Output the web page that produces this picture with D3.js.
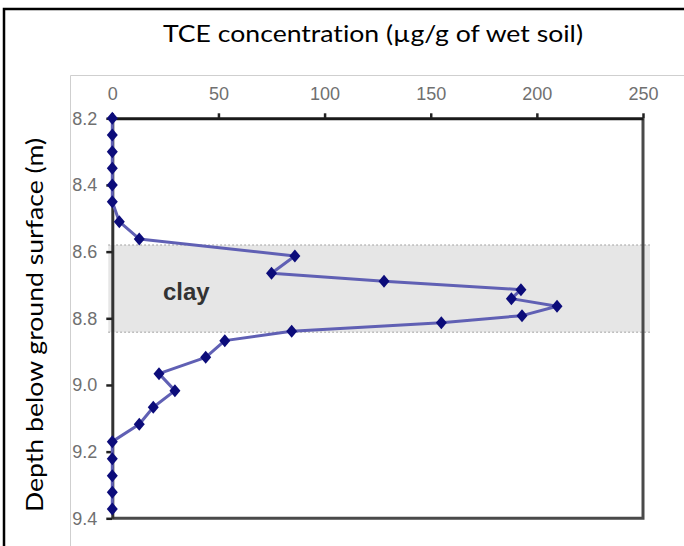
<!DOCTYPE html>
<html>
<head>
<meta charset="utf-8">
<script src="https://cdn.jsdelivr.net/npm/d3@7"></script>
<style>
  body { margin: 0; background: #fff; }
  svg { display: block; }
  text { font-variant-ligatures: none; }
</style>
</head>
<body>
<svg id="chart" width="684" height="546"></svg>
<script>
// TCE profile
var depths = [8.2, 8.25, 8.3, 8.35, 8.4, 8.45, 8.51, 8.562, 8.613, 8.665, 8.689, 8.714, 8.741, 8.764,
  8.792, 8.813, 8.839, 8.867, 8.917, 8.966, 9.017, 9.067, 9.118, 9.17, 9.221, 9.272, 9.322, 9.372];
var concentrations = [0, 0, 0, 0, 0, 0, 3.3, 12.7, 86, 75, 128, 192.5, 188, 209.5,
  193, 155, 84.5, 53, 44, 22, 29.5, 19.3, 12.7, 0, 0, 0, 0, 0];
var xTicks = [0, 50, 100, 150, 200, 250];
var yTicks = [8.2, 8.4, 8.6, 8.8, 9.0, 9.2, 9.4];
var clayLayer = [8.58, 8.842];

var svg = d3.select("#chart");

// outer frame and picture border
svg.append("path")
  .attr("d", "M4,546 V9 H684")
  .attr("fill", "none")
  .attr("stroke", "#000")
  .attr("stroke-width", 2.5);
svg.append("path")
  .attr("d", "M70.5,546 V75.5 H684")
  .attr("fill", "none")
  .attr("stroke", "#cfcfcf")
  .attr("stroke-width", 1);

var x = d3.scaleLinear().domain([0, 250]).range([112.3, 643]);
var y = d3.scaleLinear().domain([8.2, 9.4]).range([118.3, 518.3]);

// clay band
svg.append("rect")
  .attr("x", x(0) - 4)
  .attr("y", y(clayLayer[0]))
  .attr("width", x(250) + 11 - x(0))
  .attr("height", y(clayLayer[1]) - y(clayLayer[0]))
  .attr("fill", "#e6e6e6");
clayLayer.forEach(function(d) {
  svg.append("line")
    .attr("x1", x(0) - 4).attr("x2", x(250) + 7)
    .attr("y1", y(d)).attr("y2", y(d))
    .attr("stroke", "#b0b0b0")
    .attr("stroke-width", 1.5)
    .attr("stroke-dasharray", "1.5,2.5");
});

svg.append("text")
  .attr("x", 163)
  .attr("y", 300)
  .attr("font-family", "Liberation Sans, Arial, sans-serif")
  .attr("font-weight", "bold")
  .attr("font-size", 24)
  .attr("fill", "#333")
  .text("clay");

// right and bottom frame of the plot
svg.append("path")
  .attr("d", "M" + x(0) + "," + y(9.4) + " H" + x(250) + " V" + y(8.2))
  .attr("fill", "none")
  .attr("stroke", "#4a4a4a")
  .attr("stroke-width", 3);

// axes
var xAxis = svg.append("g")
  .attr("transform", "translate(0," + y(8.2) + ")")
  .call(d3.axisTop(x).tickValues(xTicks).tickSize(5).tickPadding(13).tickSizeOuter(0));
var yAxis = svg.append("g")
  .attr("transform", "translate(" + x(0) + ",0)")
  .call(d3.axisLeft(y).tickValues(yTicks).tickFormat(d3.format(".1f")).tickSize(6).tickPadding(9).tickSizeOuter(0));

xAxis.select(".domain").attr("stroke", "#1a1a1a").attr("stroke-width", 3);
yAxis.select(".domain").attr("stroke", "#333").attr("stroke-width", 3);
[xAxis, yAxis].forEach(function(g) {
  g.selectAll(".tick line").attr("stroke", "#222").attr("stroke-width", 2.5);
  g.selectAll(".tick text")
    .attr("font-family", "Liberation Sans, Arial, sans-serif")
    .attr("font-size", 18)
    .attr("fill", "#707070");
});

// profile line and markers
var points = depths.map(function(d, i) { return [concentrations[i], d]; });
var line = d3.line()
  .x(function(d) { return x(d[0]); })
  .y(function(d) { return y(d[1]); });

svg.append("path")
  .datum(points)
  .attr("d", line)
  .attr("fill", "none")
  .attr("stroke", "#6060b4")
  .attr("stroke-width", 3)
  .attr("stroke-linejoin", "round");

svg.selectAll(".marker")
  .data(points)
  .enter()
  .append("path")
  .attr("class", "marker")
  .attr("d", "M0,-6.5 L5.5,0 L0,6.5 L-5.5,0 Z")
  .attr("fill", "#0c0c7a")
  .attr("transform", function(d) { return "translate(" + x(d[0]) + "," + y(d[1]) + ")"; });

// titles
svg.append("text")
  .attr("x", 373)
  .attr("y", 42)
  .attr("text-anchor", "middle")
  .attr("font-family", "Lato, sans-serif")
  .attr("font-size", 23)
  .attr("fill", "#000")
  .attr("textLength", 420)
  .attr("lengthAdjust", "spacingAndGlyphs")
  .text("TCE concentration (µg/g of wet soil)");

svg.append("text")
  .attr("transform", "translate(43,325) rotate(-90)")
  .attr("text-anchor", "middle")
  .attr("font-family", "Lato, sans-serif")
  .attr("font-size", 23)
  .attr("fill", "#000")
  .attr("textLength", 374)
  .attr("lengthAdjust", "spacingAndGlyphs")
  .text("Depth below ground surface (m)");
</script>
</body>
</html>
